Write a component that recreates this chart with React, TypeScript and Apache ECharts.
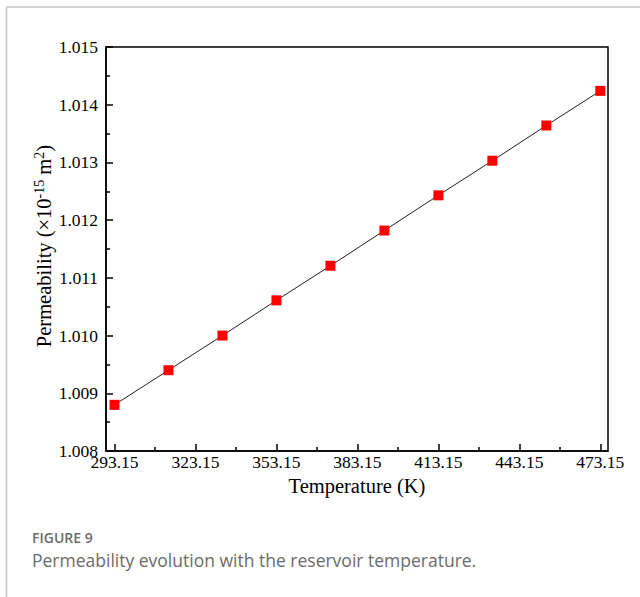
import React, { useEffect, useRef } from "react";
import * as echarts from "echarts";

const temperatures = [293.15, 313.15, 333.15, 353.15, 373.15, 393.15, 413.15, 433.15, 453.15, 473.15];
const permeability = [1.0088, 1.0094, 1.01, 1.01061, 1.01121, 1.01182, 1.01243, 1.01303, 1.01364, 1.01424];
const xTickLabels = [293.15, 323.15, 353.15, 383.15, 413.15, 443.15, 473.15];
const xMinorTicks = [308.15, 338.15, 368.15, 398.15, 428.15, 458.15];
const yTicks = [1.008, 1.009, 1.01, 1.011, 1.012, 1.013, 1.014, 1.015];

const SERIF = "'Liberation Serif', 'Times New Roman', serif";

export default function App() {
  const ref = useRef<HTMLDivElement>(null);
  useEffect(() => {
    if (!ref.current) return;
    const chart = echarts.init(ref.current, null, { renderer: "svg" });
    const grid = { left: 106, top: 47, right: 32, bottom: 146 };
    chart.setOption({
      animation: false,
      backgroundColor: "#ffffff",
      grid: { ...grid, show: true, borderColor: "#000", borderWidth: 1.5, backgroundColor: "transparent" },
      xAxis: [
        {
          type: "value",
          min: 290,
          max: 476,
          position: "bottom",
          axisLine: { show: true, lineStyle: { color: "#000", width: 1.5 } },
          axisTick: { show: true, inside: true, length: 7, customValues: xTickLabels, lineStyle: { color: "#000", width: 1.5 } },
          axisLabel: {
            show: true,
            customValues: xTickLabels,
            formatter: (v: number) => v.toFixed(2),
            color: "#000",
            fontFamily: SERIF,
            fontSize: 17.5,
            margin: 2,
          },
          splitLine: { show: false },
          name: "Temperature (K)",
          nameLocation: "middle",
          nameGap: 21,
          nameTextStyle: { color: "#000", fontFamily: SERIF, fontSize: 20.5, verticalAlign: "top" },
        },
        {
          type: "value",
          min: 290,
          max: 476,
          position: "bottom",
          axisLine: { show: false },
          axisTick: { show: true, inside: true, length: 4, customValues: xMinorTicks, lineStyle: { color: "#000", width: 1.5 } },
          axisLabel: { show: false },
          splitLine: { show: false },
        },
      ],
      yAxis: {
        type: "value",
        min: yTicks[0],
        max: yTicks[yTicks.length - 1],
        interval: 0.001,
        axisLine: { show: true, lineStyle: { color: "#000", width: 1.5 } },
        axisTick: { show: true, inside: true, length: 7, lineStyle: { color: "#000", width: 1.5 } },
        minorTick: { show: true, splitNumber: 2, length: 4, lineStyle: { color: "#000", width: 1.5 } },
        axisLabel: {
          color: "#000",
          fontFamily: SERIF,
          fontSize: 17.5,
          margin: 8,
          formatter: (v: number) => v.toFixed(3),
        },
        splitLine: { show: false },
        minorSplitLine: { show: false },
      },
      series: [
        {
          type: "line",
          data: temperatures.map((t, i) => [t, permeability[i]]),
          symbol: "rect",
          symbolSize: 10,
          showSymbol: true,
          lineStyle: { color: "#222", width: 1 },
          itemStyle: { color: "#ff0000" },
          z: 3,
        },
      ],
      graphic: [
        { type: "line", shape: { x1: 6.5, y1: 7, x2: 640, y2: 7 }, style: { stroke: "#c4c4c4", lineWidth: 1.5 }, silent: true },
        { type: "line", shape: { x1: 6.5, y1: 7, x2: 6.5, y2: 597 }, style: { stroke: "#c4c4c4", lineWidth: 1.5 }, silent: true },
        {
          type: "text",
          x: 44,
          y: 246,
          rotation: Math.PI / 2,
          style: {
            text: "Permeability (×10{sup|-15} m{sup|2})",
            fontFamily: SERIF,
            fontSize: 20.5,
            lineHeight: 24,
            fill: "#000",
            align: "center",
            verticalAlign: "middle",
            rich: {
              sup: { fontFamily: SERIF, fontSize: 14, lineHeight: 14, verticalAlign: "top", fill: "#000" },
            },
          },
        },
        {
          type: "text",
          left: 32,
          top: 530.5,
          style: { text: "FIGURE 9", fontFamily: "'Open Sans', sans-serif", fontSize: 14, lineHeight: 14, fontWeight: 600, fill: "#6b6b6b" },
        },
        {
          type: "text",
          left: 32,
          top: 551,
          style: {
            text: "Permeability evolution with the reservoir temperature.",
            fontFamily: "'Open Sans', sans-serif",
            fontSize: 17.5,
            lineHeight: 17.5,
            fill: "#6b6b6b",
          },
        },
      ],
    });
    return () => chart.dispose();
  }, []);
  return <div ref={ref} style={{ position: "fixed", left: 0, top: 0, width: 640, height: 597 }} />;
}
